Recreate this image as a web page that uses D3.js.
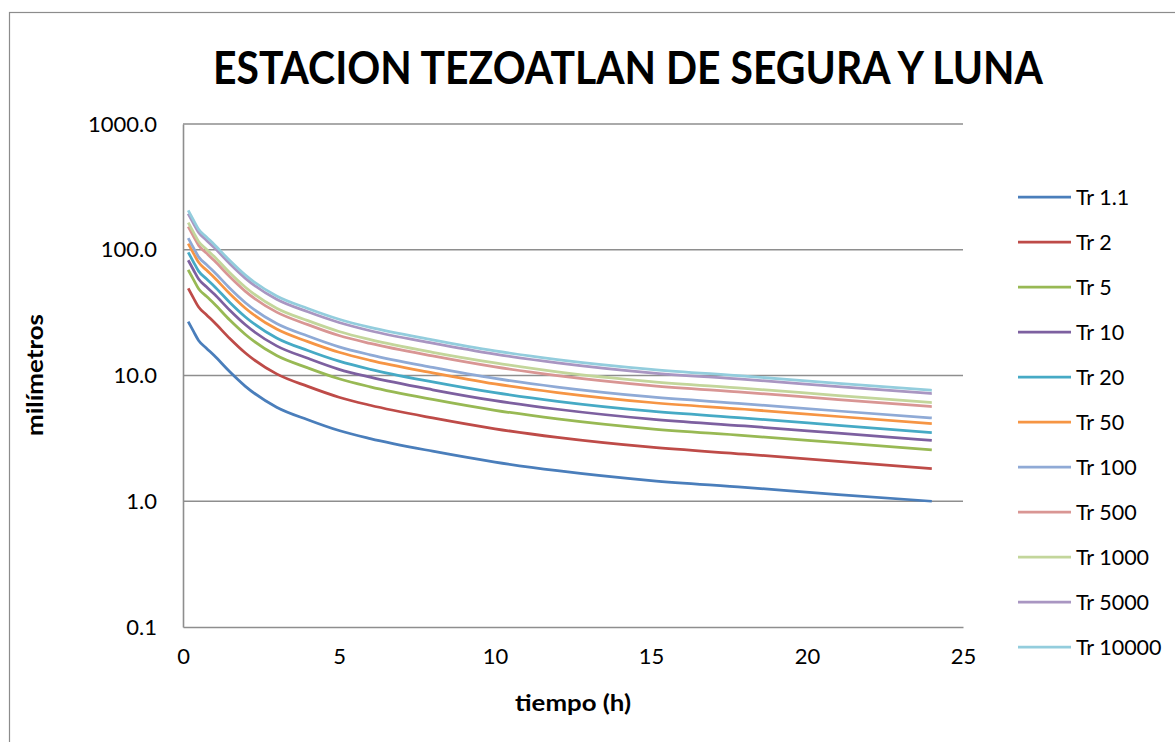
<!DOCTYPE html>
<html>
<head>
<meta charset="utf-8">
<script src="https://cdn.jsdelivr.net/npm/d3@7"></script>
<style>
  html, body { margin: 0; padding: 0; background: #fff; }
  svg { display: block; }
  text { font-family: Lato, "Open Sans", sans-serif; fill: #000; }
</style>
</head>
<body>
<svg id="chart" width="1175" height="742"></svg>
<script>
// Duración (h)
const durations = [0.167, 0.333, 0.5, 0.75, 1, 1.5, 2, 3, 4, 5, 6, 8, 10, 12, 15, 18, 21, 24];

// Lámina / intensidad (mm) para cada periodo de retorno
const tr1_1   = [26.8, 22.5, 19.0, 16.5, 14.4, 10.7, 8.2, 5.6, 4.45, 3.65, 3.15, 2.5, 2.05, 1.75, 1.46, 1.29, 1.13, 1.0];
const tr2     = [49.3, 41.4, 35.0, 30.4, 26.5, 19.7, 15.1, 10.3, 8.19, 6.72, 5.80, 4.6, 3.77, 3.22, 2.69, 2.37, 2.08, 1.82];
const tr5     = [69.1, 58.1, 49.0, 42.6, 37.2, 27.6, 21.2, 14.4, 11.5, 9.42, 8.13, 6.45, 5.29, 4.52, 3.77, 3.33, 2.92, 2.56];
const tr10    = [82.5, 69.3, 58.5, 50.8, 44.4, 33.0, 25.3, 17.2, 13.7, 11.2, 9.70, 7.70, 6.31, 5.39, 4.50, 3.97, 3.48, 3.05];
const tr20    = [95.4, 80.1, 67.6, 58.7, 51.3, 38.1, 29.2, 19.9, 15.8, 13.0, 11.2, 8.90, 7.30, 6.23, 5.20, 4.59, 4.02, 3.52];
const tr50    = [112.0, 94.1, 79.4, 69.0, 60.2, 44.7, 34.3, 23.4, 18.6, 15.3, 13.2, 10.5, 8.57, 7.32, 6.10, 5.39, 4.72, 4.15];
const tr100   = [123.8, 104.0, 87.8, 76.2, 66.5, 49.4, 37.9, 25.9, 20.6, 16.9, 14.6, 11.6, 9.47, 8.09, 6.75, 5.96, 5.22, 4.60];
const tr500   = [152.8, 128.3, 108.3, 94.1, 82.1, 61.0, 46.7, 31.9, 25.4, 20.8, 18.0, 14.3, 11.7, 9.98, 8.32, 7.35, 6.44, 5.66];
const tr1000  = [164.3, 137.9, 116.5, 101.1, 88.3, 65.6, 50.3, 34.3, 27.3, 22.4, 19.3, 15.3, 12.6, 10.7, 8.95, 7.91, 6.93, 6.09];
const tr5000  = [193.5, 162.5, 137.2, 119.1, 104.0, 77.3, 59.2, 40.4, 32.1, 26.4, 22.7, 18.1, 14.8, 12.6, 10.5, 9.31, 8.16, 7.18];
const tr10000 = [205.3, 172.4, 145.5, 126.4, 110.3, 82.0, 62.8, 42.9, 34.1, 28.0, 24.1, 19.2, 15.7, 13.4, 11.2, 9.88, 8.66, 7.63];

const seriesNames  = ["Tr 1.1", "Tr 2", "Tr 5", "Tr 10", "Tr 20", "Tr 50", "Tr 100", "Tr 500", "Tr 1000", "Tr 5000", "Tr 10000"];
const seriesValues = [tr1_1, tr2, tr5, tr10, tr20, tr50, tr100, tr500, tr1000, tr5000, tr10000];
const seriesColors = ["#4a7ebb", "#be4b48", "#98b954", "#7d60a0", "#46aac5", "#f69544",
                      "#8faad6", "#d99694", "#c3d69b", "#a996c2", "#93cddd"];

const yTicks = [0.1, 1, 10, 100, 1000];
const xTicks = [0, 5, 10, 15, 20, 25];

const svg = d3.select("#chart");

// marco del gráfico
svg.append("rect")
  .attr("x", 9.5).attr("y", 12.5)
  .attr("width", 1180).attr("height", 760)
  .attr("fill", "none").attr("stroke", "#8c8c8c").attr("stroke-width", 1.2);

const x = d3.scaleLinear().domain([0, 25]).range([183, 963]);
const y = d3.scaleLog().domain([0.1, 1000]).range([627, 124]);

// líneas de división horizontales
svg.append("g").selectAll("line")
  .data(yTicks.filter(d => d > 0.1))
  .join("line")
  .attr("x1", x(0)).attr("x2", x(25))
  .attr("y1", d => y(d)).attr("y2", d => y(d))
  .attr("stroke", "#8e8e8e").attr("stroke-width", 1.6);

// ejes
const yAxis = d3.axisLeft(y).tickValues(yTicks).tickFormat(d3.format(".1f")).tickSize(0).tickPadding(26);
const yg = svg.append("g").attr("transform", `translate(${x(0)},0)`).call(yAxis);
yg.select(".domain").attr("stroke", "#8e8e8e").attr("stroke-width", 1.6);
yg.selectAll("text").style("font-size", "22px").style("font-family", "Lato, sans-serif").attr("fill", "#000");

const xAxis = d3.axisBottom(x).tickValues(xTicks).tickFormat(d3.format("d")).tickSize(0).tickPadding(21);
const xg = svg.append("g").attr("transform", `translate(0,${y(0.1)})`).call(xAxis);
xg.select(".domain").attr("stroke", "#8e8e8e").attr("stroke-width", 1.6);
xg.selectAll("text").style("font-size", "22px").style("font-family", "Lato, sans-serif").attr("fill", "#000");

// curvas
const line = d3.line()
  .x((d, i) => x(durations[i]))
  .y(d => y(d))
  .curve(d3.curveMonotoneX);

svg.append("g").selectAll("path")
  .data(seriesValues)
  .join("path")
  .attr("d", d => line(d))
  .attr("fill", "none")
  .attr("stroke", (d, i) => seriesColors[i])
  .attr("stroke-width", 2.75)
  .attr("stroke-linejoin", "round");

// título
svg.append("text")
  .attr("x", 628).attr("y", 84)
  .attr("text-anchor", "middle")
  .attr("textLength", 830).attr("lengthAdjust", "spacingAndGlyphs")
  .style("font-size", "46px").style("font-weight", "bold")
  .text("ESTACION TEZOATLAN DE SEGURA Y LUNA");

// títulos de ejes
svg.append("text")
  .attr("x", 573).attr("y", 711)
  .attr("text-anchor", "middle")
  .attr("textLength", 116).attr("lengthAdjust", "spacingAndGlyphs")
  .style("font-size", "23px").style("font-weight", "bold")
  .text("tiempo (h)");

svg.append("text")
  .attr("transform", "translate(43,375) rotate(-90)")
  .attr("text-anchor", "middle")
  .attr("textLength", 122).attr("lengthAdjust", "spacingAndGlyphs")
  .style("font-size", "23px").style("font-weight", "bold")
  .text("milímetros");

// leyenda
const legend = svg.append("g").selectAll("g")
  .data(seriesNames)
  .join("g")
  .attr("transform", (d, i) => `translate(1018,${197 + i * 45})`);

legend.append("line")
  .attr("x1", 0).attr("x2", 53)
  .attr("stroke", (d, i) => seriesColors[i])
  .attr("stroke-width", 2.75);

legend.append("text")
  .attr("x", 58).attr("y", 0).attr("dy", "0.35em")
  .style("font-size", "21.5px")
  .text(d => d);
</script>
</body>
</html>
